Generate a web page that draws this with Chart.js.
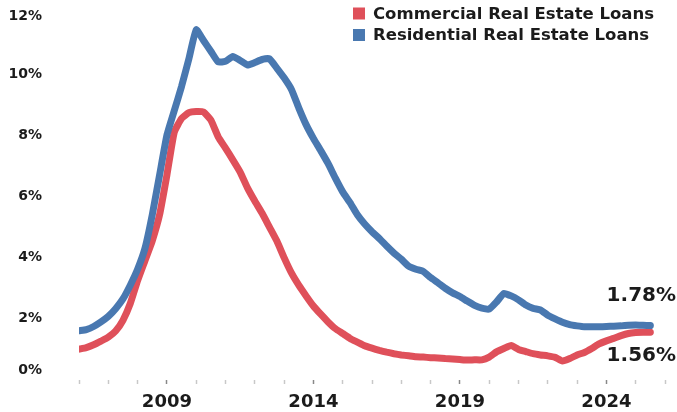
<!DOCTYPE html>
<html>
<head>
<meta charset="utf-8">
<script src="https://cdn.jsdelivr.net/npm/chart.js@4.4.1/dist/chart.umd.min.js"></script>
<style>
  html, body { margin: 0; padding: 0; background: #fff; }
  #chart { display: block; }
</style>
</head>
<body>
<canvas id="chart" width="677" height="412"></canvas>
<script>
// delinquency rates, quarterly from 2006 Q1
const startYear = 2006
const commercial = [
  1.01, 1.06, 1.15, 1.27, 1.40, 1.60, 1.95, 2.50, 3.25, 3.90,
  4.55, 5.40, 6.70, 8.10, 8.55, 8.74, 8.78, 8.76, 8.50, 7.95,
  7.58, 7.20, 6.80, 6.28, 5.85, 5.45, 5.00, 4.55, 4.00, 3.50,
  3.10, 2.75, 2.42, 2.15, 1.90, 1.68, 1.52, 1.36, 1.24, 1.12,
  1.04, 0.97, 0.91, 0.86, 0.82, 0.79, 0.76, 0.75, 0.73, 0.72,
  0.70, 0.69, 0.67, 0.65, 0.66, 0.66, 0.75, 0.92, 1.03, 1.13,
  1.00, 0.93, 0.86, 0.82, 0.79, 0.74, 0.62, 0.70, 0.82, 0.90,
  1.03, 1.18, 1.28, 1.36, 1.45, 1.52, 1.55, 1.56, 1.56
]
const residential = [
  1.61, 1.65, 1.75, 1.90, 2.08, 2.33, 2.65, 3.10, 3.62, 4.30,
  5.40, 6.70, 8.00, 8.80, 9.60, 10.50, 11.45, 11.10, 10.75, 10.40,
  10.42, 10.58, 10.45, 10.30, 10.38, 10.48, 10.50, 10.20, 9.88, 9.50,
  8.90, 8.35, 7.90, 7.50, 7.08, 6.60, 6.15, 5.80, 5.40, 5.10,
  4.85, 4.63, 4.38, 4.15, 3.95, 3.72, 3.62, 3.55, 3.35, 3.18,
  3.00, 2.85, 2.73, 2.58, 2.44, 2.35, 2.32, 2.55, 2.83, 2.75,
  2.62, 2.45, 2.34, 2.29, 2.12, 2.00, 1.89, 1.81, 1.77, 1.74,
  1.74, 1.74, 1.75, 1.76, 1.77, 1.79, 1.80, 1.79, 1.78
]
const seriesNames = ['Commercial Real Estate Loans', 'Residential Real Estate Loans']
const yTicks = [0, 2, 4, 6, 8, 10, 12]
const xLabels = [2009, 2014, 2019, 2024]

const red = '#df505a'
const blue = '#4978b0'
const ink = '#1b1b1b'
const fontFamily = '"DejaVu Sans", sans-serif'

const quarters = commercial.map((v, i) => startYear + i / 4)
const toPoints = arr => arr.map((v, i) => ({x: quarters[i], y: v}))

// y labels drawn by hand so the end ones stay inside the canvas
const yLabelPlugin = {
  id: 'yLabelPlugin',
  afterDraw(chart) {
    const {ctx} = chart
    const y = chart.scales.y
    ctx.save()
    ctx.font = 'bold 14px ' + fontFamily
    ctx.fillStyle = ink
    ctx.textAlign = 'right'
    ctx.textBaseline = 'middle'
    yTicks.forEach(v => {
      let py = y.getPixelForValue(v)
      py = Math.min(Math.max(py, 16), 370)
      ctx.fillText(v + '%', 42, py)
    })
    ctx.restore()
  }
}

const legendPlugin = {
  id: 'legendPlugin',
  afterDraw(chart) {
    const {ctx} = chart
    ctx.save()
    ctx.font = 'bold 16.5px ' + fontFamily
    ctx.textBaseline = 'middle'
    chart.data.datasets.forEach((ds, i) => {
      const cy = 13.5 + i * 21.5
      ctx.fillStyle = ds.borderColor
      ctx.fillRect(353, cy - 6, 12, 12)
      ctx.fillStyle = ink
      ctx.fillText(ds.label, 373, cy + 1)
    })
    ctx.restore()
  }
}

// latest value printed at the end of each line
const endLabelPlugin = {
  id: 'endLabelPlugin',
  afterDatasetsDraw(chart) {
    const {ctx} = chart
    ctx.save()
    ctx.font = 'bold 20px ' + fontFamily
    ctx.fillStyle = ink
    ctx.textAlign = 'right'
    ctx.textBaseline = 'middle'
    chart.data.datasets.forEach((ds, i) => {
      const meta = chart.getDatasetMeta(i)
      const last = meta.data[meta.data.length - 1]
      const val = ds.data[ds.data.length - 1].y
      const dy = i === 0 ? 24 : -30
      ctx.fillText(val.toFixed(2) + '%', 676, last.y + dy)
    })
    ctx.restore()
  }
}

const ctx = document.getElementById('chart').getContext('2d')
new Chart(ctx, {
  type: 'line',
  data: {
    datasets: [{
      label: seriesNames[0],
      data: toPoints(commercial),
      borderColor: red,
      order: 1
    }, {
      label: seriesNames[1],
      data: toPoints(residential),
      borderColor: blue,
      order: 0
    }]
  },
  options: {
    responsive: false,
    animation: false,
    devicePixelRatio: 1,
    layout: {padding: {top: 13, right: 12, bottom: 0, left: 0}},
    elements: {
      line: {borderWidth: 7, tension: 0.15, borderCapStyle: 'round', borderJoinStyle: 'round', fill: false},
      point: {radius: 0}
    },
    plugins: {
      legend: {display: false},
      tooltip: {enabled: false}
    },
    scales: {
      x: {
        type: 'linear',
        min: 2006,
        max: 2026,
        border: {display: false},
        grid: {
          drawOnChartArea: false,
          tickLength: 4,
          tickWidth: 1.5,
          tickColor: c => xLabels.includes(c.tick.value) ? '#888' : '#c8c8c8'
        },
        ticks: {
          stepSize: 1,
          autoSkip: false,
          maxRotation: 0,
          padding: 8,
          color: ink,
          font: {family: fontFamily, size: 18, weight: 'bold'},
          callback: v => xLabels.includes(v) ? String(v) : ''
        },
        afterFit: s => { s.height = 32 }
      },
      y: {
        min: 0,
        max: 12,
        border: {display: false},
        grid: {display: false},
        ticks: {display: false, stepSize: 2},
        afterFit: s => { s.width = 79 }
      }
    }
  },
  plugins: [yLabelPlugin, legendPlugin, endLabelPlugin]
})
</script>
</body>
</html>
